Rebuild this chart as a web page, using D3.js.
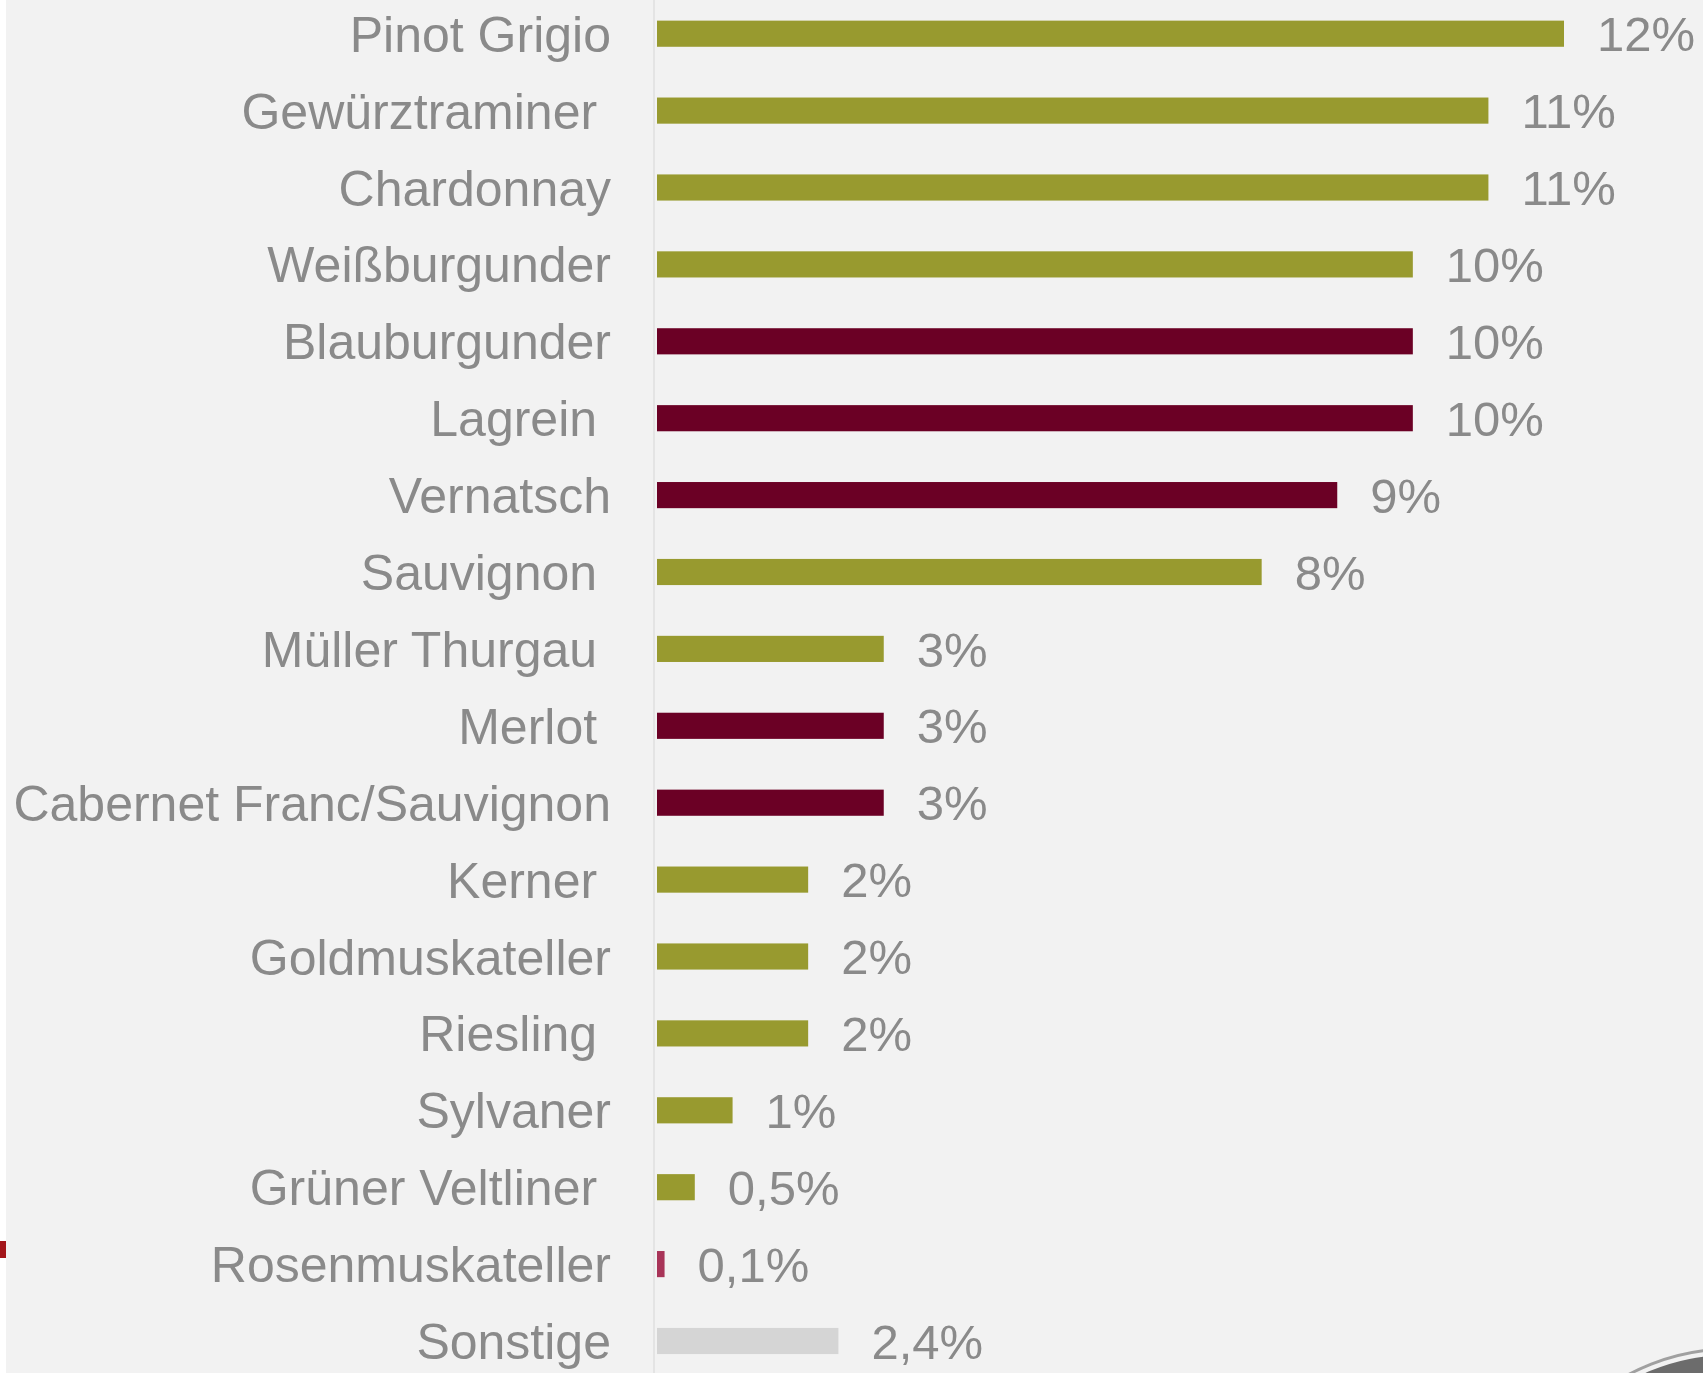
<!DOCTYPE html>
<meta charset="utf-8">
<script src="https://cdn.jsdelivr.net/npm/d3@7"></script>
<style>
  body { margin: 0; background: #fff; }
  .label { font-family: "Liberation Sans", Arial, sans-serif; font-size: 50px; fill: #8a8a8a; white-space: pre; }
  .value { font-family: "Liberation Sans", Arial, sans-serif; font-size: 49px; fill: #8a8a8a; }
</style>
<svg width="1703" height="1373"></svg>
<script>

// Rebsorten (trailing space = label sits slightly further left, as in the original)
const sorten = ["Pinot Grigio", "Gewürztraminer ", "Chardonnay", "Weißburgunder", "Blauburgunder",
  "Lagrein ", "Vernatsch", "Sauvignon ", "Müller Thurgau ", "Merlot ", "Cabernet Franc/Sauvignon",
  "Kerner ", "Goldmuskateller", "Riesling ", "Sylvaner", "Grüner Veltliner ", "Rosenmuskateller", "Sonstige"]
const anteil = [12, 11, 11, 10, 10, 10, 9, 8, 3, 3, 3, 2, 2, 2, 1, 0.5, 0.1, 2.4]
const anteilText = ["12%", "11%", "11%", "10%", "10%", "10%", "9%", "8%", "3%", "3%", "3%",
  "2%", "2%", "2%", "1%", "0,5%", "0,1%", "2,4%"]
const typ = ["weiss", "weiss", "weiss", "weiss", "rot", "rot", "rot", "weiss", "weiss", "rot", "rot",
  "weiss", "weiss", "weiss", "weiss", "weiss", "rose", "sonst"]

const colors = { weiss: "#989a2f", rot: "#6b0025", rose: "#a83458", sonst: "#d5d5d5" }

const svg = d3.select("svg")
const W = 1703, H = 1373

// background panel
svg.append("rect").attr("x", 6).attr("y", 0).attr("width", W - 6).attr("height", H).attr("fill", "#f2f2f2")

const rows = sorten.map((s, i) => ({ name: s, key: i, value: anteil[i], text: anteilText[i], typ: typ[i] }))

const x = d3.scaleLinear().domain([0, 12]).range([657, 1564])
const y = d3.scaleBand().domain(d3.range(rows.length))
  .range([-4.75, 1379.45]).paddingInner(0.66).paddingOuter(0.33)

// axis line
svg.append("line")
  .attr("x1", x(0) - 3).attr("x2", x(0) - 3)
  .attr("y1", 0).attr("y2", H)
  .attr("stroke", "#e4e4e4").attr("stroke-width", 2)

svg.selectAll(".bar").data(rows).join("rect")
  .attr("class", "bar")
  .attr("x", x(0))
  .attr("y", d => y(d.key))
  .attr("width", d => x(d.value) - x(0))
  .attr("height", y.bandwidth())
  .attr("fill", d => colors[d.typ])

svg.selectAll(".label").data(rows).join("text")
  .attr("class", "label")
  .attr("x", 611)
  .attr("y", d => y(d.key) + y.bandwidth() / 2)
  .attr("dy", "0.36em")
  .attr("text-anchor", "end")
  .text(d => d.name)

svg.selectAll(".value").data(rows).join("text")
  .attr("class", "value")
  .attr("x", d => x(d.value) + 33)
  .attr("y", d => y(d.key) + y.bandwidth() / 2)
  .attr("dy", "0.36em")
  .text(d => d.text)

// small red mark on the left edge
svg.append("rect").attr("x", 0).attr("y", 1241).attr("width", 6).attr("height", 17).attr("fill", "#a3151a")

// logo cut off in the corner
svg.append("circle").attr("cx", 1730).attr("cy", 1563).attr("r", 214)
  .attr("fill", "none").attr("stroke", "#a0a0a0").attr("stroke-width", 3)
svg.append("circle").attr("cx", 1730).attr("cy", 1563).attr("r", 208)
  .attr("fill", "#6c6c6c")
</script>
